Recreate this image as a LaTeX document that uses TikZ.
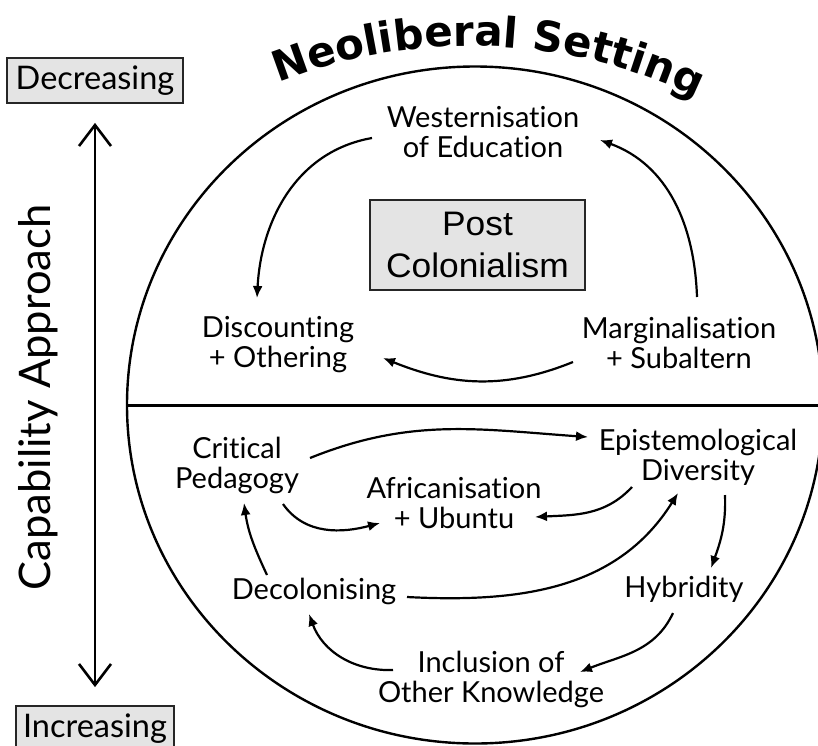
\documentclass[tikz,border=0pt]{standalone}
\usepackage{fontspec}
\setmainfont{Lato}[Ligatures=NoCommon]
\newfontfamily\postfont[FakeStretch=1.04]{Liberation Sans}
\newfontfamily\titlefont{DejaVu Sans}
\usetikzlibrary{arrows.meta,decorations.text,calc}
\newcommand\titlestyle{\titlefont\bfseries\fontsize{42pt}{42pt}\selectfont}
\definecolor{boxgrey}{RGB}{228,228,228}
\tikzset{
  lbl/.style={font=\fontsize{29pt}{30pt}\selectfont, align=center, anchor=base, inner sep=0pt},
  flow/.style={line width=2.2pt, -{Latex[length=12pt,width=10pt]}},
  greybox/.style={draw=black!85, line width=1.8pt, fill=boxgrey},
  scalebar/.style={line width=2.6pt, {Straight Barb[length=21pt,width=32pt]}-{Straight Barb[length=21pt,width=32pt]}},
}
\begin{document}
\begin{tikzpicture}[x=1pt,y=1pt]
\clip (0,0) rectangle (818,-745);
\fill[white] (0,0) rectangle (818,-745);
% big circle and divider
\draw[line width=2.4pt] (475,-405) ellipse [x radius=348pt, y radius=338.5pt];
\draw[line width=3pt] (127,-405) -- (818,-405);
% title along arc
\path[decorate, decoration={text along path, text={|\titlestyle|Neoliberal Setting}, text align=center}]
  (470,-568) ++(111.7:522pt) arc[start angle=111.7, end angle=64.1, radius=522pt];
% left scale
\node[greybox, minimum width=176pt, minimum height=45pt, inner sep=0pt, font=\fontsize{32.5pt}{36pt}\selectfont] (dec) at (95,-80.5) {Decreasing};
\node[greybox, minimum width=158pt, minimum height=45pt, inner sep=0pt, font=\fontsize{32.5pt}{36pt}\selectfont] (inc) at (95,-728.5) {Increasing};
\draw[scalebar] ([yshift=-19pt]dec.south) -- ([yshift=18pt]inc.north);
\node[rotate=90, anchor=base, inner sep=0pt, font=\fontsize{43.5pt}{44pt}\selectfont] (cap) at (50,-397.5) {Capability Approach};
% upper half
\node[greybox, minimum width=215pt, minimum height=90pt, inner sep=0pt, align=center, font=\postfont\fontsize{34pt}{42pt}\selectfont] (post) at (477.5,-245) {Post\\Colonialism};
\node[lbl] (west) at (483,-157) {Westernisation\\of Education};
\node[lbl] (disc) at (278,-367) {Discounting\\+ Othering};
\node[lbl] (marg) at (679,-368) {Marginalisation\\+ Subaltern};
% lower half
\node[lbl] (crit) at (237,-488) {Critical\\Pedagogy};
\node[lbl] (epis) at (698,-480) {Epistemological\\Diversity};
\node[lbl] (afr) at (454,-528) {Africanisation\\+ Ubuntu};
\node[lbl] (decol) at (314,-599) {Decolonising};
\node[lbl] (hyb) at (684,-597) {Hybridity};
\node[lbl] (incl) at (491,-702) {Inclusion of\\Other Knowledge};
% upper arrows
\draw[flow] ([shift={(-111,19)}]west.base) to[out=190,in=87] ([shift={(-21,69)}]disc.base);
\draw[flow] ([shift={(18,71)}]marg.base) to[out=92,in=-20] ([shift={(117,17)}]west.base);
\draw[flow] ([shift={(-106,6)}]marg.base) to[out=202,in=-22] ([shift={(105,9)}]disc.base);
% lower arrows
\draw[flow] ([shift={(73,30)}]crit.base) to[out=22,in=176] ([shift={(-110,43)}]epis.base);
\draw[flow] ([shift={(46,-16)}]crit.base) to[out=-55,in=195] ([shift={(-74,5)}]afr.base);
\draw[flow] ([shift={(-66,-7)}]epis.base) to[out=227,in=3] ([shift={(81,11)}]afr.base);
\draw[flow] ([shift={(93,2)}]decol.base) to[out=-3,in=238] ([shift={(-20,-13)}]epis.base);
\draw[flow] ([shift={(27,-15)}]epis.base) to[out=-88,in=70] ([shift={(27,29)}]hyb.base);
\draw[flow] ([shift={(-11,-16)}]hyb.base) to[out=245,in=22] ([shift={(89,30)}]incl.base);
\draw[flow] ([shift={(-98,32)}]incl.base) to[out=182,in=-70] ([shift={(-5,-15)}]decol.base);
\draw[flow] ([shift={(-47,24)}]decol.base) to[out=115,in=-82] ([shift={(7,-15)}]crit.base);
\end{tikzpicture}
\end{document}
